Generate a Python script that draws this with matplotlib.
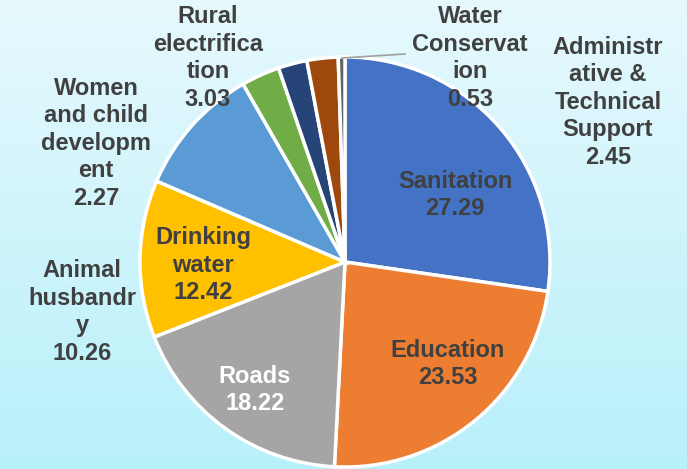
import numpy as np
import matplotlib
matplotlib.use("Agg")
import matplotlib.pyplot as plt

# budget share by sector (%)
sectors = ["Sanitation", "Education", "Roads", "Drinking\nwater", "Animal\nhusbandr\ny",
           "Rural\nelectrifica\ntion", "Women\nand child\ndevelopm\nent",
           "Administr\native &\nTechnical\nSupport", "Water\nConservat\nion"]
shares = [27.29, 23.53, 18.22, 12.42, 10.26, 3.03, 2.27, 2.45, 0.53]
colors = ["#4472C4", "#ED7D31", "#A5A5A5", "#FFC000", "#5B9BD5",
          "#70AD47", "#264478", "#9E480E", "#636363"]

# label block centres in pixel coords (x from left, y from top)
label_pos = [(455, 195), (448, 364), (255, 390), (203, 265), (82, 312),
             (208, 58), (96, 143), (608, 102), (470, 58)]
label_colors = ["#404040"] * 9
label_colors[2] = "white"

W, H = 687, 469
fig = plt.figure(figsize=(W / 100, H / 100), dpi=100)
ax = fig.add_axes([0, 0, 1, 1])

# background gradient
grad = np.linspace(0, 1, 256).reshape(-1, 1)
top = np.array([0xE6, 0xF9, 0xFD]) / 255
bottom = np.array([0xB8, 0xF0, 0xFA]) / 255
img = top + (bottom - top) * grad[:, :, None]
ax.imshow(img, extent=(0, W, 0, H), aspect="auto", zorder=0)

ax.pie(shares, colors=colors, startangle=90, counterclock=False,
       center=(345, H - 262), radius=205, frame=True,
       wedgeprops=dict(edgecolor="white", linewidth=2.5))
ax.set_xlim(0, W)
ax.set_ylim(0, H)
ax.set_aspect("auto")
ax.axis("off")

for name, val, (x, y), c in zip(sectors, shares, label_pos, label_colors):
    ax.text(x, H - y, f"{name}\n{val:.2f}", ha="center", va="center",
            fontsize=17, fontweight="bold", color=c, family="Liberation Sans",
            linespacing=1.25, zorder=5)

# leader line for the smallest slice
ax.plot([342, 405], [H - 58, H - 54], color="#A0A0A0", lw=1.2, zorder=4)

fig.savefig("out.png", dpi=100)
